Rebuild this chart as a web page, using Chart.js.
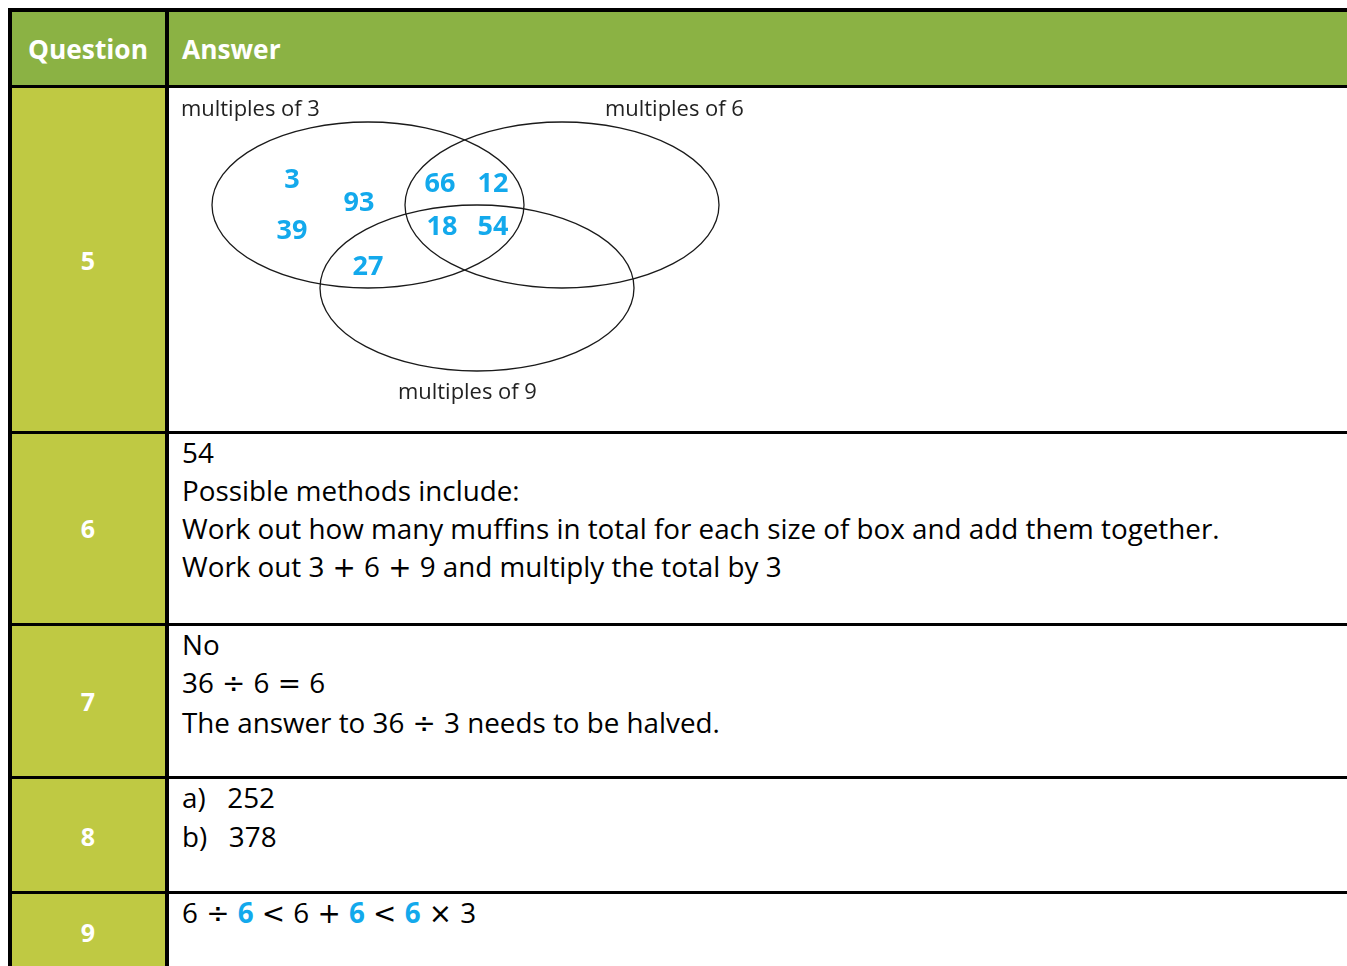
<!DOCTYPE html>
<html>
<head>
<meta charset="utf-8">
<script src="https://cdn.jsdelivr.net/npm/chart.js@4.4.1/dist/chart.umd.min.js"></script>
<style>
  html, body { margin:0; padding:0; background:#fff; overflow:hidden; width:1347px; height:966px; }
  body { position:relative; font-family: "Open Sans", Lato, sans-serif; color:#000; font-variant-ligatures:none; }
  .abs { position:absolute; }
  .hdr { background:#8bb244; }
  .qcol { background:#bfc943; }
  .line { background:#000; }
  .htxt { color:#fff; font-weight:bold; font-size:25px; line-height:1; }
  .qnum { color:#fff; font-weight:bold; font-size:25px; width:154px; text-align:center; line-height:1; }
  .ans { font-size:26px; line-height:38px; white-space:pre; left:182px; }
  .blue { color:#13a9ec; font-weight:bold; }
  .op { font-family:"DejaVu Sans", sans-serif; font-size:25px; margin:0 1px; }
  #vennWrap { position:absolute; left:170px; top:90px; width:1177px; height:340px; }
</style>
</head>
<body>
<div class="abs hdr" style="left:8px;top:8px;width:1339px;height:80px"></div>
<div class="abs qcol" style="left:8px;top:88px;width:159px;height:878px"></div>

<div class="abs line" style="left:8px;top:8px;width:1339px;height:4px"></div>
<div class="abs line" style="left:8px;top:8px;width:4px;height:958px"></div>
<div class="abs line" style="left:165px;top:8px;width:4px;height:958px"></div>
<div class="abs line" style="left:8px;top:85px;width:1339px;height:3px"></div>
<div class="abs line" style="left:8px;top:431px;width:1339px;height:3px"></div>
<div class="abs line" style="left:8px;top:623px;width:1339px;height:3px"></div>
<div class="abs line" style="left:8px;top:776px;width:1339px;height:3px"></div>
<div class="abs line" style="left:8px;top:891px;width:1339px;height:3px"></div>

<div class="abs htxt" id="hq" style="left:28px;top:36px">Question</div>
<div class="abs htxt" style="left:182px;top:36px">Answer</div>

<div id="qnums"></div>

<div id="vennWrap"><canvas id="venn"></canvas></div>

<div class="abs ans" id="a6" style="top:433px">54
Possible methods include:
<span id="longline">Work out how many muffins in total for each size of box and add them together.</span>
Work out 3 <span class="op">+</span> 6 <span class="op">+</span> 9 and multiply the total by 3</div>
<div class="abs ans" style="top:625px">No
36 <span class="op">÷</span> 6 <span class="op">=</span> 6
The answer to 36 <span class="op">÷</span> 3 needs to be halved.</div>
<div class="abs ans" style="top:778px;line-height:39px">a)   252
b)   378</div>
<div class="abs ans" style="top:893px">6 <span class="op">÷</span> <span class="blue">6</span> <span class="op">&lt;</span> 6 <span class="op">+</span> <span class="blue">6</span> <span class="op">&lt;</span> <span class="blue">6</span> <span class="op">×</span> 3</div>

<script>
// ---- data ----
const questionNumbers = ['5', '6', '7', '8', '9'];
const setNames = ['multiples of 3', 'multiples of 6', 'multiples of 9'];
const vennNumbers = ['3', '93', '39', '27', '66', '12', '18', '54'];

// ---- layout (reference pixel units inside the Venn panel) ----
const qCentersY = [261, 529, 702, 837, 933];
const setEllipses = [ // cx, cy, rx, ry
  [198, 115, 156, 83],
  [392, 115, 157, 83],
  [307, 198, 157, 83]
];
const setLabelPos = [[11, 20, 'left'], [435, 20, 'left'], [228, 303, 'left']];
const numberPos = [[122, 90], [189, 113], [122, 141], [198, 177], [270, 94], [323, 94], [272, 137], [323, 137]];

// fit answer text size to the reference line width
const mctx = document.createElement('canvas').getContext('2d');
mctx.font = '100px "Open Sans"';
const w100 = mctx.measureText(document.getElementById('longline').textContent).width;
const ansSize = Math.min(30, Math.max(22, 1038 / w100 * 100));
document.querySelectorAll('.ans').forEach(el => el.style.fontSize = ansSize.toFixed(2) + 'px');
document.querySelectorAll('.op').forEach(el => el.style.fontSize = (ansSize * 1.0).toFixed(2) + 'px');
mctx.font = 'bold 100px "Open Sans"';
const hq = 120 / mctx.measureText('Question').width * 100;
document.querySelectorAll('.htxt').forEach(el => el.style.fontSize = Math.min(30, hq).toFixed(2) + 'px');
mctx.font = '100px "Open Sans"';
const labelSize = Math.min(24, 139 / mctx.measureText('multiples of 3').width * 100);

const qWrap = document.getElementById('qnums');
questionNumbers.forEach((q, i) => {
  const d = document.createElement('div');
  d.className = 'abs qnum';
  d.style.left = '11px';
  d.style.top = (qCentersY[i] - 13) + 'px';
  d.textContent = q;
  qWrap.appendChild(d);
});

const vennPlugin = {
  id: 'vennPlugin',
  afterDatasetsDraw(chart) {
    const { ctx, scales: { x, y } } = chart;
    ctx.save();
    ctx.strokeStyle = '#1a1a1a';
    ctx.lineWidth = 1.3;
    setEllipses.forEach(e => {
      const cx = x.getPixelForValue(e[0]);
      const cy = y.getPixelForValue(e[1]);
      const rx = Math.abs(x.getPixelForValue(e[0] + e[2]) - cx);
      const ry = Math.abs(y.getPixelForValue(e[1] + e[3]) - cy);
      ctx.beginPath();
      ctx.ellipse(cx, cy, rx, ry, 0, 0, Math.PI * 2);
      ctx.stroke();
    });
    ctx.fillStyle = '#222';
    ctx.font = labelSize.toFixed(2) + 'px "Open Sans", sans-serif';
    ctx.textBaseline = 'middle';
    setNames.forEach((s, i) => {
      const p = setLabelPos[i];
      ctx.textAlign = p[2];
      ctx.fillText(s, x.getPixelForValue(p[0]), y.getPixelForValue(p[1]));
    });
    const meta = chart.getDatasetMeta(0);
    ctx.fillStyle = '#13a9ec';
    ctx.font = 'bold 27px "Open Sans", sans-serif';
    ctx.textAlign = 'center';
    meta.data.forEach((pt, i) => {
      ctx.fillText(vennNumbers[i], pt.x, pt.y);
    });
    ctx.restore();
  }
};

new Chart(document.getElementById('venn'), {
  type: 'scatter',
  data: {
    datasets: [{
      data: vennNumbers.map((n, i) => ({ x: numberPos[i][0], y: numberPos[i][1] })),
      pointRadius: 0
    }]
  },
  options: {
    responsive: true,
    maintainAspectRatio: false,
    animation: false,
    layout: { padding: 0 },
    plugins: { legend: { display: false }, tooltip: { enabled: false } },
    scales: {
      x: { type: 'linear', min: 0, max: 1177, display: false },
      y: { type: 'linear', min: 0, max: 340, reverse: true, display: false }
    }
  },
  plugins: [vennPlugin]
});
</script>
</body>
</html>
